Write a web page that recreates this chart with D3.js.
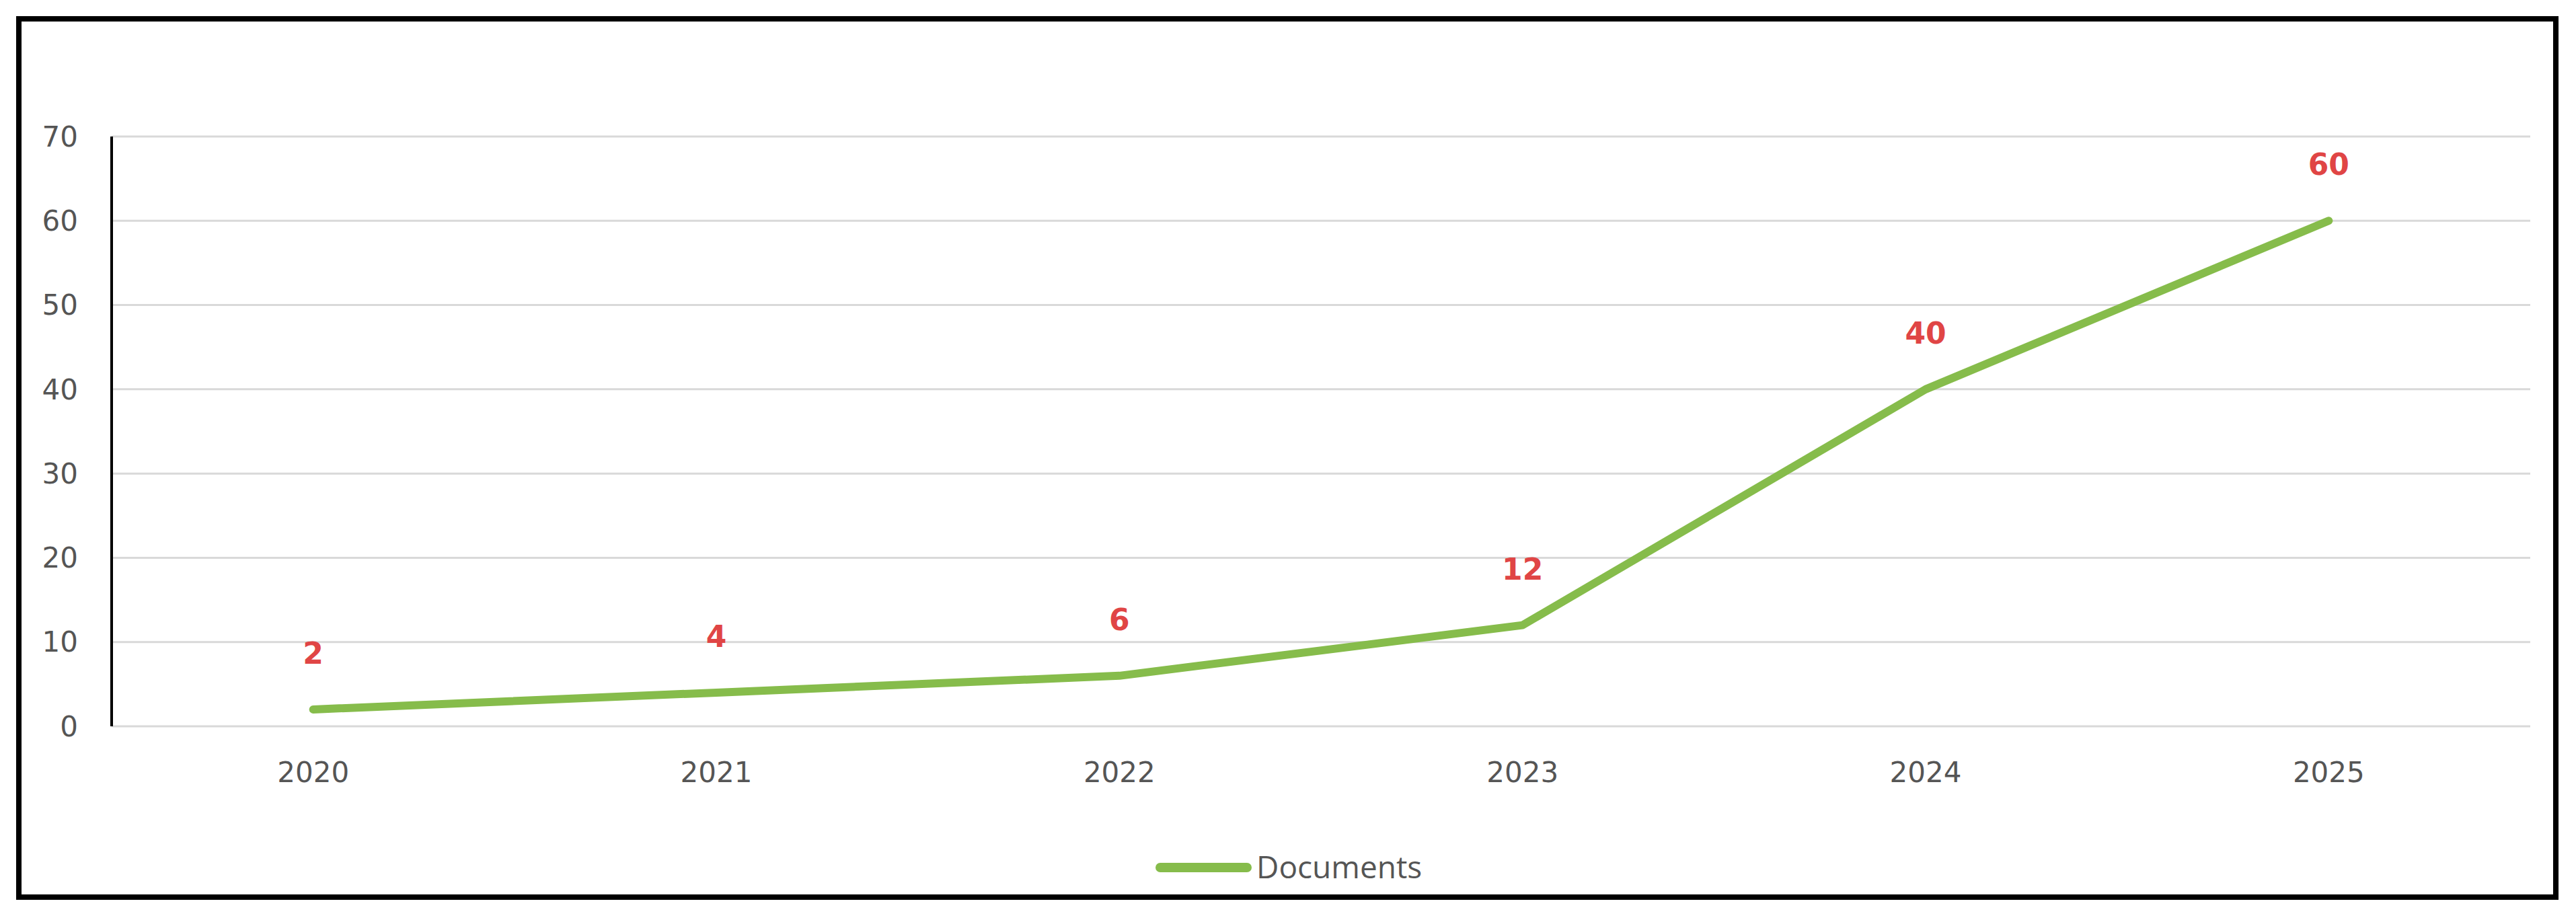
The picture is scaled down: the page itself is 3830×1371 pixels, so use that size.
<!DOCTYPE html><html><head><script src="https://cdn.jsdelivr.net/npm/d3@7"></script>
<style>body{margin:0;background:#fff}</style></head><body><svg id="c" width="3830" height="1371"></svg>
<script>
const years=["2020","2021","2022","2023","2024","2025"];
const documents=[2,4,6,12,40,60];
const yTicks=[0,10,20,30,40,50,60,70];
const seriesName="Documents";
const svg=d3.select("#c");
svg.append("rect").attr("x",28).attr("y",28).attr("width",3772).attr("height",1306).attr("fill","#fff").attr("stroke","#000").attr("stroke-width",8);
const L=166,R=3762,T=203,B=1080;
const x=d3.scalePoint().domain(years).range([L,R]).padding(0.5);
const y=d3.scaleLinear().domain([0,70]).range([B,T]);
svg.append("g").selectAll("line").data(yTicks).join("line").attr("x1",L).attr("x2",R).attr("y1",d=>y(d)).attr("y2",d=>y(d)).attr("stroke","#d9d9d9").attr("stroke-width",3);
svg.append("line").attr("x1",L).attr("x2",L).attr("y1",T).attr("y2",B).attr("stroke","#000").attr("stroke-width",4);
svg.append("g").selectAll("text").data(yTicks).join("text").attr("x",L-50).attr("y",d=>y(d)).attr("dy","0.35em").attr("text-anchor","end").attr("font-family","DejaVu Sans").attr("font-size",42).attr("fill","#555").text(d=>d);
svg.append("g").selectAll("text").data(years).join("text").attr("x",d=>x(d)).attr("y",1163).attr("text-anchor","middle").attr("font-family","DejaVu Sans").attr("font-size",42).attr("fill","#555").text(d=>d);
const data=years.map((d,i)=>({k:d,v:documents[i]}));
svg.append("path").datum(data).attr("fill","none").attr("stroke","#86bc4b").attr("stroke-width",12).attr("stroke-linecap","round").attr("stroke-linejoin","round").attr("d",d3.line().x(d=>x(d.k)).y(d=>y(d.v)));
svg.append("g").selectAll("text").data(data).join("text").attr("x",d=>x(d.k)).attr("y",d=>y(d.v)-68).attr("text-anchor","middle").attr("font-family","DejaVu Sans").attr("font-weight","bold").attr("font-size",44).attr("fill","#e04545").text(d=>d.v);
svg.append("line").attr("x1",1725).attr("x2",1854).attr("y1",1290).attr("y2",1290).attr("stroke","#86bc4b").attr("stroke-width",14).attr("stroke-linecap","round");
svg.append("text").attr("x",1868).attr("y",1290).attr("dy","0.35em").attr("font-family","Open Sans").attr("font-size",46).attr("fill","#555").text(seriesName);
</script></body></html>
